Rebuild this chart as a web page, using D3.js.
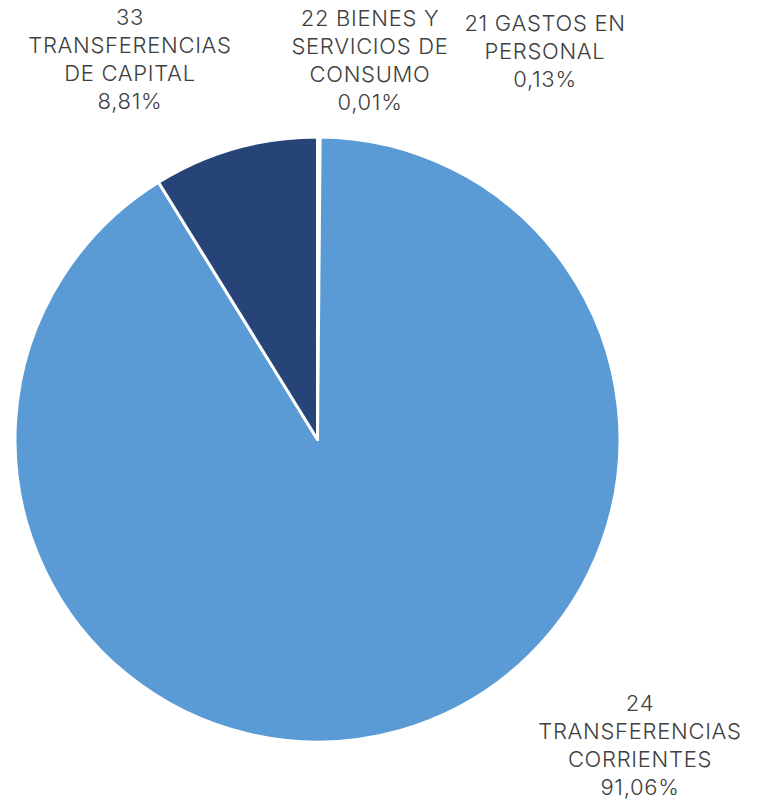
<!DOCTYPE html>
<html><head><meta charset="utf-8">
<script src="https://cdn.jsdelivr.net/npm/d3@7"></script>
<style>
html,body{margin:0;padding:0;background:#fff;}
text{font-family:Inter,"Open Sans",sans-serif;font-weight:300;fill:#404040;}
</style></head>
<body><svg id="c" width="767" height="801"></svg>
<script>
const categories = ["21 GASTOS EN PERSONAL","22 BIENES Y SERVICIOS DE CONSUMO","24 TRANSFERENCIAS CORRIENTES","33 TRANSFERENCIAS DE CAPITAL"];
const values = [0.13, 0.01, 91.06, 8.81];
const valueLabels = ["0,13%","0,01%","91,06%","8,81%"];
const labelLines = [["21 GASTOS EN","PERSONAL"],["22 BIENES Y","SERVICIOS DE","CONSUMO"],["24","TRANSFERENCIAS","CORRIENTES"],["33","TRANSFERENCIAS","DE CAPITAL"]];
const colors = ["#A5C8EA","#ED7D31","#5B9BD5","#264478"];

const svg = d3.select("#c");
const cx = 317.5, cy = 439.5, r = 302.5;
const g = svg.append("g").attr("transform",`translate(${cx},${cy})`);
const pie = d3.pie().sort(null).value(d=>d);
const arcs = pie(values);
const arc = d3.arc().innerRadius(0).outerRadius(r);
g.selectAll("path").data(arcs).join("path")
  .attr("d",arc).attr("fill",(d,i)=>colors[i])
  .attr("stroke","#fff").attr("stroke-width",3).attr("stroke-linejoin","round");

// label anchor positions (centre x, first line baseline y)
const labelPos = [[545,31],[370,26],[640,711],[130,25]];
const lh = 28;
labelLines.forEach((lines,i)=>{
  const t = svg.append("text").attr("text-anchor","middle").attr("font-size",22).attr("letter-spacing","0.7px");
  lines.concat([valueLabels[i]]).forEach((s,j)=>{
    t.append("tspan").attr("x",labelPos[i][0]).attr("y",labelPos[i][1]+j*lh).text(s);
  });
});
</script></body></html>
